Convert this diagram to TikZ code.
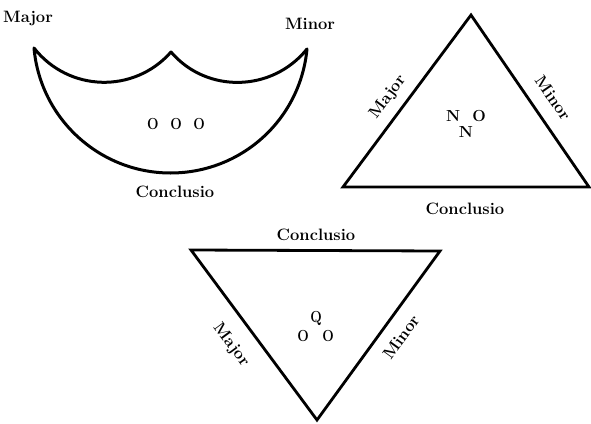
\documentclass[tikz,border=0pt]{standalone}
\begin{document}
\begin{tikzpicture}[x=1pt,y=-1pt,
  outline/.style={line width=3pt,line join=round},
  triline/.style={line width=2.8pt,line join=miter},
  lbl/.style={font=\fontsize{16.5}{20}\selectfont\bfseries,inner sep=0pt},
  inner text/.style={font=\fontsize{16}{18}\selectfont\bfseries,inner sep=0pt}]
\useasboundingbox (0,0) rectangle (591,423);
% ---- moon shape ----
\coordinate (mL) at (34,48);
\coordinate (mC) at (171,52);
\coordinate (mR) at (307,49);
\coordinate (mB) at (170.5,173);
\draw[outline] (mL) .. controls (68.5,92) and (134,94) .. (mC)
  .. controls (207,94) and (272.5,92) .. (mR)
  .. controls (300.3,119.6) and (241.4,173) .. (mB)
  .. controls (99.6,173) and (40.2,118.6) .. cycle;
\node[lbl] (mMajor) at (28,18) {Major};
\node[lbl] (mMinor) at (310,24) {Minor};
\node[lbl] (mConc) at (175,192) {Conclusio};
\node[inner text,xscale=0.85] (mO) at (176,124) {O\hspace{0.85em}O\hspace{0.85em}O};
% ---- upright triangle ----
\coordinate (aT) at (471,15);
\coordinate (aL) at (343,187);
\coordinate (aR) at (589,187);
\draw[triline] (aT) -- (aL) -- (aR) -- cycle;
\node[lbl,rotate=53.3] (aMajor) at (388,97) {Major};
\node[lbl,rotate=-55.3] (aMinor) at (553,98) {Minor};
\node[lbl] (aConc) at (465,209) {Conclusio};
\node[inner text] (aNO) at (466,116) {N\hspace{0.75em}O};
\node[inner text] (aN) at (466,132) {N};
% ---- inverted triangle ----
\coordinate (bL) at (191,250);
\coordinate (bR) at (440,251);
\coordinate (bB) at (317,420);
\draw[triline] (bL) -- (bR) -- (bB) -- cycle;
\node[lbl] (bConc) at (316,235) {Conclusio};
\node[lbl,rotate=-53.4] (bMajor) at (231,345) {Major};
\node[lbl,rotate=54] (bMinor) at (401,337) {Minor};
\node[inner text,xscale=0.85] (bQ) at (316,318) {Q};
\node[inner text,xscale=0.85] (bO1) at (303,336) {O};
\node[inner text,xscale=0.85] (bO2) at (328,336) {O};
\end{tikzpicture}
\end{document}
